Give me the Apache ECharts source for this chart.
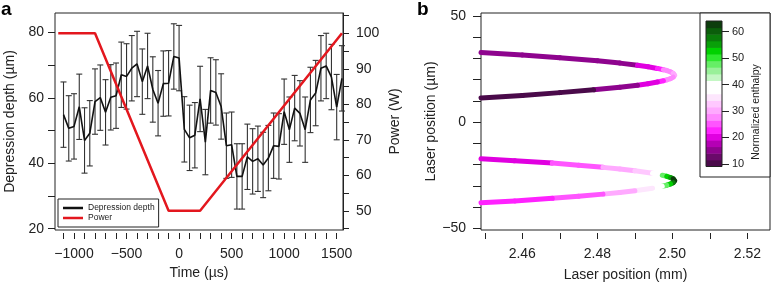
<!DOCTYPE html>
<html>
<head>
<meta charset="utf-8">
<script src="https://cdn.jsdelivr.net/npm/echarts@6/dist/echarts.min.js"></script>
<style>
html, body { margin: 0; padding: 0; background: #fff; }
#chart { width: 771px; height: 284px; }
</style>
</head>
<body>
<div id="chart"></div>
<script>
// ---- panel a : depression depth and laser power vs time
var timeUs = [-1100, -1050, -1000, -950, -900, -850, -800, -750, -700, -650, -600, -550, -500, -450,
  -400, -350, -300, -250, -200, -150, -100, -50, 0, 50, 100, 150, 200, 250, 300, 350, 400, 450, 500,
  550, 600, 650, 700, 750, 800, 850, 900, 950, 1000, 1050, 1100, 1150, 1200, 1250, 1300, 1350, 1400,
  1450, 1500, 1550];
var depthUm = [54.9, 50.7, 51.3, 57.3, 47.0, 49.2, 58.9, 60.1, 55.6, 60.2, 60.7, 67.1, 66.6, 69.1,
  70.4, 65.0, 69.8, 62.6, 58.4, 64.4, 64.5, 72.7, 72.2, 50.4, 47.8, 48.6, 59.7, 46.5, 62.3, 61.7,
  57.4, 45.4, 45.7, 36.0, 36.0, 42.0, 40.6, 41.4, 39.5, 41.6, 45.4, 45.2, 55.8, 50.3, 56.9, 55.3,
  50.3, 59.4, 61.5, 69.1, 69.8, 66.4, 57.2, 66.0];
var depthErrUm = 10;
var powerTimeUs = [-1150, -800, -100, 200, 1550];
var powerW = [100, 100, 50, 50, 100];

// ---- panel b : laser path, coloured by normalized enthalpy (h is per segment)
var upperPosMm = [2.449, 2.46, 2.47, 2.48, 2.486, 2.4907, 2.4935, 2.496, 2.4976, 2.4985, 2.4995, 2.5002,
  2.5006, 2.5002, 2.4995, 2.4985, 2.4976, 2.496, 2.4935, 2.4907, 2.486, 2.479, 2.47, 2.46, 2.449];
var upperPosUm = [32.8, 31.6, 30.3, 28.9, 27.8, 26.8, 26.1, 25.3, 24.7, 24.3, 23.7, 23.0,
  22.1, 21.2, 20.5, 19.9, 19.5, 18.9, 18.1, 17.4, 16.4, 15.2, 13.9, 12.6, 11.4];
var upperEnthalpy = [16, 16, 16, 16, 16, 20, 20, 22, 27, 27, 27, 30,
  30, 27, 27, 27, 22, 20, 20, 14.5, 14.5, 10, 10, 10];

var lowerPosMm = [2.449, 2.458, 2.468, 2.475, 2.4815, 2.486, 2.49, 2.4947, 2.4973, 2.4985, 2.4995, 2.5002,
  2.5006, 2.5002, 2.4995, 2.4985, 2.4973, 2.4947, 2.49, 2.486, 2.4815, 2.475, 2.468, 2.458, 2.449];
var lowerPosUm = [-17.2, -18.2, -19.3, -20.3, -21.3, -22.1, -22.9, -24.1, -25.0, -25.5, -26.1, -26.7,
  -27.6, -28.5, -29.1, -29.7, -30.2, -31.1, -32.3, -33.1, -33.9, -34.9, -35.9, -37.1, -38.0];
var lowerEnthalpy = [20, 20, 25, 25, 30, 30, 33, 38, 47, 52, 56, 62,
  62, 57, 52, 47, 40, 34, 30, 30, 25, 25, 22, 22];

// ---- colour bar
var bandEdges = [9, 11.5, 14, 16.5, 19, 21.5, 24, 26.5, 29, 31.5, 34, 36.5, 39, 41.5, 44, 46.5,
  49, 51.5, 54, 56.5, 59, 61.5, 64];
var bandColors = ['#4a0a4a', '#6a0a6a', '#8e048e', '#b400b4', '#e000e0', '#ff22ff', '#ff55ff',
  '#ff88ff', '#ffaaff', '#ffc8ff', '#fde6fd', '#ffffff', '#ffffff', '#c4f7c4', '#99f099', '#66ee66',
  '#2ee82e', '#00d200', '#09a009', '#0a7d0a', '#0b5e0b', '#0d3d0d'];
var barTicks = [10, 20, 30, 40, 50, 60];

var FONT = "'Liberation Sans', Arial, Helvetica, sans-serif";
var INK = '#222';

function enthalpyColor(h) {
  for (var i = 0; i < bandColors.length; i++) {
    if (h < bandEdges[i + 1]) return bandColors[i];
  }
  return bandColors[bandColors.length - 1];
}

function minus(v) {
  return v < 0 ? '\u2212' + (-v) : String(v);
}

function segments(xs, ys, hs) {
  var out = [];
  for (var i = 0; i < xs.length - 1; i++) {
    out.push([xs[i], ys[i], xs[i + 1], ys[i + 1], hs[i]]);
  }
  return out;
}

function renderSegment(params, api) {
  var a = api.coord([api.value(0), api.value(1)]);
  var b = api.coord([api.value(2), api.value(3)]);
  return {
    type: 'line',
    shape: { x1: a[0], y1: a[1], x2: b[0], y2: b[1] },
    style: { stroke: enthalpyColor(api.value(4)), lineWidth: 5, lineCap: 'round' }
  };
}

function renderErrorBar(params, api) {
  var t = api.value(0);
  var lo = api.coord([t, api.value(1)]);
  var hi = api.coord([t, api.value(2)]);
  var w = 3;
  var st = { stroke: '#333', lineWidth: 1.1 };
  return {
    type: 'group',
    children: [
      { type: 'line', shape: { x1: lo[0], y1: lo[1], x2: hi[0], y2: hi[1] }, style: st },
      { type: 'line', shape: { x1: lo[0] - w, y1: lo[1], x2: lo[0] + w, y2: lo[1] }, style: st },
      { type: 'line', shape: { x1: hi[0] - w, y1: hi[1], x2: hi[0] + w, y2: hi[1] }, style: st }
    ]
  };
}

function renderBand(params, api) {
  var p0 = api.coord([0, api.value(0)]);
  var p1 = api.coord([1, api.value(1)]);
  return {
    type: 'rect',
    shape: { x: p0[0], y: p1[1], width: p1[0] - p0[0], height: p0[1] - p1[1] + 0.5 },
    style: { fill: bandColors[params.dataIndex] }
  };
}

var tickStyle = { color: INK, width: 1 };
var labelStyle = { color: INK, fontSize: 14, fontFamily: FONT };
var nameStyle = { color: INK, fontSize: 14, fontFamily: FONT };

var chart = echarts.init(document.getElementById('chart'));
chart.setOption({
  animation: false,
  textStyle: { fontFamily: FONT },
  grid: [
    { left: 55, top: 13, width: 288, height: 217, show: true, borderColor: INK, borderWidth: 1, outerBoundsMode: 'none' },
    { left: 481, top: 13, width: 289, height: 217, show: true, borderColor: INK, borderWidth: 1, outerBoundsMode: 'none' },
    { left: 706, top: 21, width: 16, height: 145.5, show: true, borderColor: INK, borderWidth: 1, z: 12, outerBoundsMode: 'none' }
  ],
  legend: {
    data: ['Depression depth', 'Power'],
    orient: 'vertical',
    left: 58,
    top: 199,
    padding: [4, 4, 4, 5],
    itemGap: 0,
    icon: 'rect',
    itemWidth: 20,
    itemHeight: 2.5,
    borderColor: INK,
    borderWidth: 1,
    backgroundColor: '#fff',
    textStyle: { color: INK, fontSize: 8.5, fontFamily: FONT, lineHeight: 10 }
  },
  xAxis: [
    {
      type: 'value', gridIndex: 0, min: -1181, max: 1560, offset: 3,
      axisLine: { show: false, onZero: false },
      axisTick: { length: 6, lineStyle: tickStyle,
        customValues: [-1100, -1000, -900, -800, -700, -600, -500, -400, -300, -200, -100, 0, 100, 200,
          300, 400, 500, 600, 700, 800, 900, 1000, 1100, 1200, 1300, 1400, 1500] },
      axisLabel: Object.assign({ margin: 14, formatter: minus,
        customValues: [-1000, -500, 0, 500, 1000, 1500] }, labelStyle),
      splitLine: { show: false },
      name: 'Time (\u00b5s)', nameLocation: 'middle', nameGap: 33, nameTextStyle: nameStyle
    },
    {
      type: 'value', gridIndex: 1, min: 2.449, max: 2.526, offset: 3,
      axisLine: { show: false, onZero: false },
      axisTick: { length: 6, lineStyle: tickStyle,
        customValues: [2.45, 2.46, 2.47, 2.48, 2.49, 2.5, 2.51, 2.52] },
      axisLabel: Object.assign({ margin: 14, formatter: function (v) { return v.toFixed(2); },
        customValues: [2.46, 2.48, 2.5, 2.52] }, labelStyle),
      splitLine: { show: false },
      name: 'Laser position (mm)', nameLocation: 'middle', nameGap: 35, nameTextStyle: nameStyle
    },
    { type: 'value', gridIndex: 2, min: 0, max: 1, show: false, axisLine: { onZero: false } }
  ],
  yAxis: [
    {
      type: 'value', gridIndex: 0, min: 19.6, max: 86, position: 'left',
      axisLine: { show: false, onZero: false },
      axisTick: { length: 7, lineStyle: tickStyle, customValues: [20, 30, 40, 50, 60, 70, 80] },
      axisLabel: Object.assign({ margin: 11, customValues: [20, 40, 60, 80] }, labelStyle),
      splitLine: { show: false },
      name: 'Depression depth (\u00b5m)', nameLocation: 'middle', nameGap: 38, nameTextStyle: nameStyle
    },
    {
      type: 'value', gridIndex: 0, min: 44.6, max: 105.7, position: 'right',
      axisLine: { show: true, onZero: false, lineStyle: tickStyle },
      axisTick: { length: 6, lineStyle: tickStyle,
        customValues: [45, 50, 55, 60, 65, 70, 75, 80, 85, 90, 95, 100, 105] },
      axisLabel: Object.assign({ margin: 13, customValues: [50, 60, 70, 80, 90, 100] }, labelStyle),
      splitLine: { show: false },
      name: 'Power (W)', nameLocation: 'middle', nameGap: 45, nameTextStyle: nameStyle
    },
    {
      type: 'value', gridIndex: 1, min: -50.8, max: 51.4, position: 'left',
      axisLine: { show: false, onZero: false },
      axisTick: { length: 8, lineStyle: tickStyle,
        customValues: [-50, -40, -30, -20, -10, 0, 10, 20, 30, 40, 50] },
      axisLabel: Object.assign({ margin: 15, formatter: minus, customValues: [-50, 0, 50] }, labelStyle),
      splitLine: { show: false },
      name: 'Laser position (\u00b5m)', nameLocation: 'middle', nameGap: 43, nameTextStyle: nameStyle
    },
    {
      type: 'value', gridIndex: 2, min: 9, max: 64, position: 'right', z: 12,
      axisLine: { show: false, onZero: false },
      axisTick: { length: 7, lineStyle: tickStyle, customValues: barTicks },
      axisLabel: { margin: 10, customValues: barTicks, color: INK, fontSize: 11, fontFamily: FONT },
      splitLine: { show: false }
    }
  ],
  graphic: [
    { type: 'text', left: 1, top: 0, style: { text: 'a', font: "bold 19px " + FONT, fill: '#000' } },
    { type: 'text', left: 417, top: 0, style: { text: 'b', font: "bold 19px " + FONT, fill: '#000' } },
    { type: 'rect', z: 5, shape: { x: 700, y: 13, width: 70, height: 164 },
      style: { fill: '#fff', stroke: INK, lineWidth: 1 } },
    { type: 'text', z: 13, x: 756, y: 112, rotation: Math.PI / 2,
      style: { text: 'Normalized enthalpy', font: "10.5px " + FONT, fill: INK, align: 'center', verticalAlign: 'middle' } }
  ],
  series: [
    {
      type: 'custom', name: 'errors', xAxisIndex: 0, yAxisIndex: 0, z: 3,
      renderItem: renderErrorBar,
      encode: { x: 0, y: [1, 2] },
      data: timeUs.map(function (t, i) { return [t, depthUm[i] - depthErrUm, depthUm[i] + depthErrUm]; })
    },
    {
      type: 'line', name: 'Depression depth', xAxisIndex: 0, yAxisIndex: 0, z: 4,
      symbol: 'none', color: '#111',
      lineStyle: { color: '#111', width: 1.6 },
      data: timeUs.map(function (t, i) { return [t, depthUm[i]]; })
    },
    {
      type: 'line', name: 'Power', xAxisIndex: 0, yAxisIndex: 1, z: 5,
      symbol: 'none', color: '#e3171e',
      lineStyle: { color: '#e3171e', width: 2.5 },
      data: powerTimeUs.map(function (t, i) { return [t, powerW[i]]; })
    },
    {
      type: 'custom', name: 'upper path', xAxisIndex: 1, yAxisIndex: 2, z: 3,
      renderItem: renderSegment, encode: { x: [0, 2], y: [1, 3] },
      data: segments(upperPosMm, upperPosUm, upperEnthalpy)
    },
    {
      type: 'custom', name: 'lower path', xAxisIndex: 1, yAxisIndex: 2, z: 3,
      renderItem: renderSegment, encode: { x: [0, 2], y: [1, 3] },
      data: segments(lowerPosMm, lowerPosUm, lowerEnthalpy)
    },
    {
      type: 'custom', name: 'colour bar', xAxisIndex: 2, yAxisIndex: 3, z: 10,
      renderItem: renderBand, encode: { y: [0, 1] },
      data: bandColors.map(function (c, i) { return [bandEdges[i], bandEdges[i + 1]]; })
    }
  ]
});
</script>
</body>
</html>
